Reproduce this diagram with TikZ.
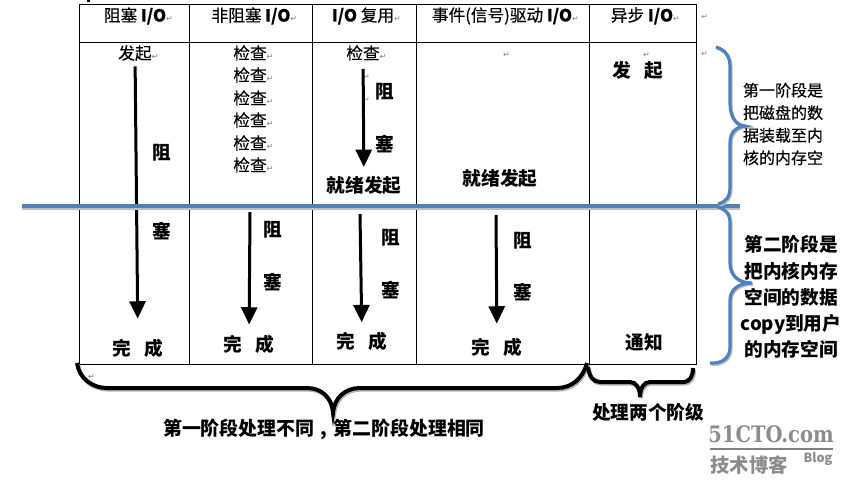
\documentclass[tikz,border=0pt]{standalone}
\usepackage{fontspec}
\setmainfont{Noto Sans CJK SC}
\newfontfamily\cellfont[FakeBold=.3]{Noto Sans CJK SC}
\newfontfamily\markfont{DejaVu Sans}
\newfontfamily\logofont{DejaVu Serif}
\usepackage{xcolor}
\usetikzlibrary{arrows.meta}
\definecolor{stageblue}{HTML}{4F81BD}
\newcommand{\retm}{\rlap{\textcolor{gray}{\markfont\fontsize{6}{6}\selectfont ↵}}}
\tikzset{
	cell/.style = {inner sep=0pt, font=\cellfont\fontsize{12.5}{15}\selectfont},
	tag/.style = {inner sep=0pt, font=\fontsize{14}{16}\selectfont\bfseries},
	retnode/.style = {inner sep=0pt},
	note/.style = {inner sep=0pt, align=center},
	blockarrow/.style = {line width=2.25pt, -{Triangle[width=12pt,length=13pt]}, black},
	blackbrace/.style = {line width=3pt, preaction={draw=black!30, line width=3pt, transform canvas={xshift=.8pt,yshift=-1.2pt}}},
	bluebrace/.style = {line width=2.4pt, stageblue, preaction={draw=black!25, line width=2.4pt, transform canvas={xshift=.8pt,yshift=-1pt}}},
}
\begin{document}
\begin{tikzpicture}[x=.75pt, y=-.75pt]
	\useasboundingbox (0,0) rectangle (847,487);
	\fill (87,0) rectangle (90,2);
	% table
	\draw[line width=.75pt] (79,4) rectangle (696,364);
	\draw[line width=.75pt] (79,42) -- (696,42);
	\draw[line width=.75pt] (189,4) -- (189,364);
	\draw[line width=.75pt] (312,4) -- (312,364);
	\draw[line width=.75pt] (416,4) -- (416,364);
	\draw[line width=.75pt] (589,4) -- (589,364);
	% header
	\node[cell] (headA) at (135,16) {阻塞 \textbf{I/O}\retm};
	\node[cell] (headB) at (251,16) {非阻塞 \textbf{I/O}\retm};
	\node[cell] (headC) at (363,16) {\textbf{I/O} 复用\retm};
	\node[cell] (headD) at (502,16) {事件(信号)驱动 \textbf{I/O}\retm};
	\node[cell] (headE) at (642,16) {异步 \textbf{I/O}\retm};
	\node[retnode] (retA) at (701,17) {\retm};
	\node[retnode] (retB) at (701,54) {\retm};
	\node[retnode] (retC) at (503,55) {\retm};
	\node[retnode] (retD) at (643,55) {\retm};
	\node[retnode] (retE) at (88,377) {\retm};
	\node[retnode] (retF) at (363,77) {\retm};
	\node[retnode] (retG) at (363,100) {\retm};
	% first column
	\node[cell] (startA) at (135,53) {发起\retm};
	\node[tag] (blockAa) at (162,153) {阻};
	\node[tag] (blockAb) at (162,231) {塞};
	\node[tag] (doneA) at (138,348) {完\hspace{.7em}成};
	\draw[blockarrow, shorten <=4pt, shorten >=15pt] (startA) -- (doneA);
	% second column
	\node[cell] (checkBa) at (250,53) {检查\retm};
	\node[cell] (checkBb) at (250,75) {检查\retm};
	\node[cell] (checkBc) at (250,98) {检查\retm};
	\node[cell] (checkBd) at (250,120) {检查\retm};
	\node[cell] (checkBe) at (250,143) {检查\retm};
	\node[cell] (checkBf) at (250,165) {检查\retm};
	\coordinate (topB) at (250,212);
	\node[tag] (blockBa) at (273,230) {阻};
	\node[tag] (blockBb) at (273,282) {塞};
	\node[tag] (doneB) at (249,344) {完\hspace{.7em}成};
	\draw[blockarrow, shorten >=7.5pt] (topB) -- (doneB);
	% third column
	\node[cell] (checkC) at (363,53) {检查\retm};
	\node[tag] (blockCa) at (385,92) {阻};
	\node[tag] (blockCb) at (385,144) {塞};
	\node[tag] (readyC) at (364,185) {就绪发起};
	\draw[blockarrow, shorten <=6pt, shorten >=6.5pt] (checkC) -- (readyC);
	\coordinate (topC) at (360,214);
	\node[tag] (blockCc) at (391,238) {阻};
	\node[tag] (blockCd) at (391,290) {塞};
	\node[tag] (doneC) at (362,341) {完\hspace{.7em}成};
	\draw[blockarrow, shorten >=7pt] (topC) -- (doneC);
	% fourth column
	\node[tag] (readyD) at (500,178) {就绪发起};
	\coordinate (topD) at (496,215);
	\node[tag] (blockDa) at (523,241) {阻};
	\node[tag] (blockDb) at (523,292) {塞};
	\node[tag] (doneD) at (497,347) {完\hspace{.7em}成};
	\draw[blockarrow, shorten >=10.5pt] (topD) -- (doneD);
	% fifth column
	\node[tag] (startE) at (638,70) {发\hspace{.7em}起};
	\node[tag] (noticeE) at (644,342) {通知};
	% the line between the two stages
	\draw[line width=3pt, black!25] (22,208) -- (740,208);
	\draw[line width=3pt, stageblue] (22,206) -- (740,206);
	% braces
	\draw[bluebrace] (716,47) .. controls (726,50) and (730,57) .. (730,67) -- (730,103) .. controls (730,116) and (735,125) .. (745,126) .. controls (735,127) and (730,133) .. (730,143) -- (730,187) .. controls (730,197) and (726,202) .. (718,204);
	\draw[bluebrace] (718,207) .. controls (726,209) and (730,214) .. (730,223) -- (730,263) .. controls (730,275) and (738,283) .. (752,283) .. controls (738,283) and (730,290) .. (730,300) -- (730,347) .. controls (730,358) and (722,364) .. (710,363);
	\draw[blackbrace] (77,363) .. controls (79,378) and (92,388) .. (107,388) -- (307,388) .. controls (322,388) and (332,398) .. (333,413) .. controls (334,398) and (345,388) .. (360,388) -- (557,388) .. controls (572,388) and (583,378) .. (587,363);
	\draw[blackbrace] (588,367) .. controls (589,376) and (593,382) .. (600,382) -- (630,382) .. controls (636,382) and (640,388) .. (640,397) .. controls (640,388) and (644,382) .. (650,382) -- (683,382) .. controls (690,382) and (693,376) .. (693,368);
	% notes
	\node[note, font=\cellfont\fontsize{12}{16.9}\selectfont] (stageOne) at (783,124) {第一阶段是\\把磁盘的数\\据装载至内\\核的内存空};
	\node[note, font=\fontsize{14}{19.6}\selectfont\bfseries] (stageTwo) at (791,297) {第二阶段是\\把内核内存\\空间的数据\\copy到用户\\的内存空间};
	\node[note, font=\fontsize{14.2}{16}\selectfont\bfseries] (sumLeft) at (324,429) {第一阶段处理不同\makebox[1em]{,}第二阶段处理相同};
	\node[note, font=\fontsize{14}{16}\selectfont\bfseries] (sumRight) at (648,412) {处理两个阶级};
	% watermark
	\node[note, text=black!45, font=\logofont\fontsize{17}{17}\selectfont\bfseries] (logoTop) at (771,434) {\scalebox{.86}[1]{51CTO.com}};
	\draw[line width=1pt, black!50] (710,449) -- (833,449);
	\node[note, text=black!45, font=\fontsize{14.5}{16}\selectfont\bfseries] (logoLeft) at (749,465) {技术博客};
	\node[note, text=black!45, font=\fontsize{9.5}{10}\selectfont\bfseries] (logoRight) at (818,459) {Blog};
\end{tikzpicture}
\end{document}
